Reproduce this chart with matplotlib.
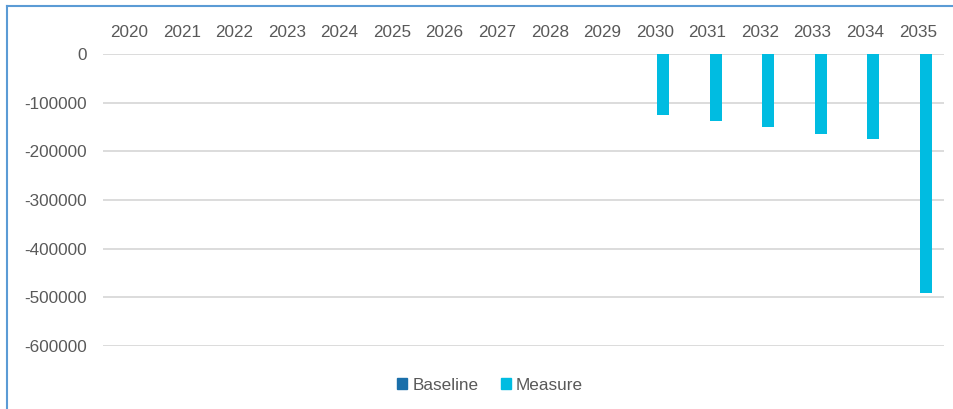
import matplotlib
matplotlib.use("Agg")
import matplotlib.pyplot as plt
from matplotlib.lines import Line2D
from matplotlib.patches import Patch
import numpy as np

years = [str(y) for y in range(2020, 2036)]
baseline = [0] * 16
measure = [0, 0, 0, 0, 0, 0, 0, 0, 0, 0,
           -126000, -138000, -151000, -164000, -175000, -492000]
yticks = [0, -100000, -200000, -300000, -400000, -500000, -600000]

c_base = "#1A6FAA"
c_meas = "#00BCE1"
grey = "#595959"

plt.rcParams['font.family'] = ['Liberation Sans', 'DejaVu Sans']

fig = plt.figure(figsize=(9.54, 4.09), dpi=100)
ax = fig.add_axes([103/954, 63/409, 841/954, 292/409])

x = np.arange(len(years))
w = 0.23
ax.bar(x - 0.04 - w/2, baseline, width=w, color=c_base, zorder=3)
ax.bar(x + 0.04 + w/2, measure, width=w, color=c_meas, zorder=3)

ax.set_xlim(-0.5, len(years) - 0.5)
ax.set_ylim(-600000, 0)
ax.set_yticks(yticks)
ax.set_yticklabels([str(v) for v in yticks])
ax.yaxis.grid(True, color="#D9D9D9", linewidth=1.3, zorder=0)
ax.set_axisbelow(True)
ax.tick_params(axis='y', length=0, pad=11.5, labelsize=12.3, labelcolor=grey)
ax.xaxis.tick_top()
ax.set_xticks(x)
ax.set_xticklabels(years)
ax.tick_params(axis='x', length=0, pad=10, labelsize=12.3, labelcolor=grey)
for s in ax.spines.values():
    s.set_visible(False)

# chart border (left and top)
fig.add_artist(Line2D([7/954, 7/954], [0, 1 - 6/409], color="#5B9BD5", linewidth=1.5, transform=fig.transFigure))
fig.add_artist(Line2D([7/954, 1], [1 - 6/409, 1 - 6/409], color="#5B9BD5", linewidth=1.5, transform=fig.transFigure))

handles = [Patch(color=c_base, label="Baseline"), Patch(color=c_meas, label="Measure")]
leg = fig.legend(handles=handles, loc='center', bbox_to_anchor=(490/954, 1 - 385/409),
                 ncol=2, frameon=False, fontsize=12.3, handlelength=0.6, handleheight=0.6,
                 handletextpad=0.3, columnspacing=1.3)
for t in leg.get_texts():
    t.set_color(grey)

fig.savefig("out.png", dpi=100)
